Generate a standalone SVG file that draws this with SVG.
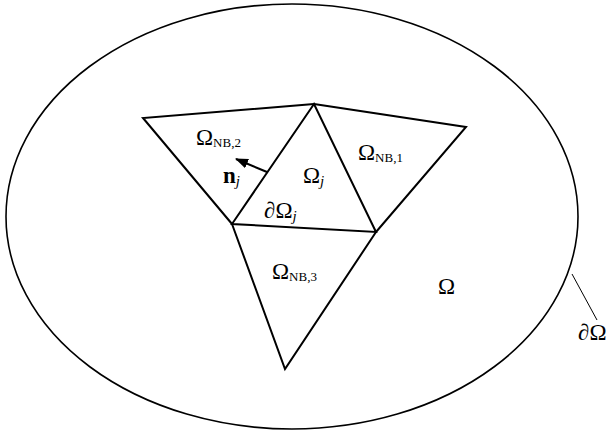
<svg xmlns="http://www.w3.org/2000/svg" width="607" height="432" viewBox="0 0 607 432">
<style>
.ln{fill:none;stroke:#000;stroke-width:2;stroke-linejoin:miter}
.t{font-family:"Liberation Serif","Times New Roman",serif;fill:#000}
.big{font-size:23px}
.sub{font-size:13px}
.js{font-size:15px;font-style:italic}
</style>
<defs>
<marker id="ah" viewBox="0 0 13 10" refX="12" refY="5" markerWidth="6.5" markerHeight="5" orient="auto" markerUnits="strokeWidth">
<path d="M0,0 L13,5 L0,10 z" fill="#000"/>
</marker>
</defs>
<rect width="607" height="432" fill="#fff"/>
<g id="domain">
<ellipse cx="292" cy="216.5" rx="286" ry="212.5" fill="none" stroke="#000" stroke-width="1.6"/>
</g>
<g id="omega-j">
<polygon class="ln" points="314,104 232,224 376,232"/>
</g>
<g id="nb2">
<polyline class="ln" points="314,104 143,118 232,224"/>
</g>
<g id="nb1">
<polyline class="ln" points="314,104 466,127 376,232"/>
</g>
<g id="nb3">
<polyline class="ln" points="232,224 285,369 376,232"/>
</g>
<g id="connectors">
<line x1="267" y1="172" x2="236" y2="159" stroke="#000" stroke-width="2" marker-end="url(#ah)"/>
<line x1="572" y1="274" x2="597" y2="320" stroke="#000" stroke-width="1"/>
</g>
<g id="labels">
<text class="t" x="196" y="145"><tspan class="big">Ω</tspan><tspan class="sub" dy="2">NB,2</tspan></text>
<text class="t" x="358" y="160"><tspan class="big">Ω</tspan><tspan class="sub" dy="2">NB,1</tspan></text>
<text class="t" x="272" y="279"><tspan class="big">Ω</tspan><tspan class="sub" dy="2">NB,3</tspan></text>
<text class="t" x="303" y="183"><tspan class="big">Ω</tspan><tspan class="js" dy="3">j</tspan></text>
<text class="t" x="223" y="183"><tspan class="big" font-weight="bold">n</tspan><tspan class="js" dy="3">j</tspan></text>
<text class="t" x="264" y="218"><tspan class="big" font-style="italic">∂</tspan><tspan class="big">Ω</tspan><tspan class="js" dy="3">j</tspan></text>
<text class="t big" x="438" y="294">Ω</text>
<text class="t big" x="578" y="340"><tspan font-style="italic">∂</tspan>Ω</text>
</g>
</svg>
